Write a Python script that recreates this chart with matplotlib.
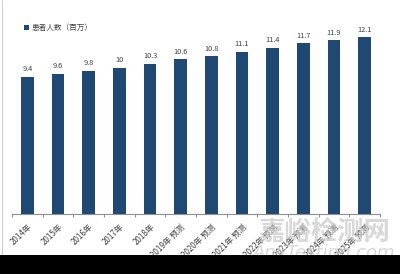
import matplotlib.pyplot as plt
from matplotlib.patches import Rectangle
import numpy as np

plt.rcParams['font.family'] = ['Noto Sans CJK SC', 'DejaVu Sans']

years = ['2014年', '2015年', '2016年', '2017年', '2018年', '2019年 预测',
         '2020年 预测', '2021年 预测', '2022年 预测', '2023年 预测',
         '2024年 预测', '2025年 预测']
patients = [9.4, 9.6, 9.8, 10, 10.3, 10.6, 10.8, 11.1, 11.4, 11.7, 11.9, 12.1]
value_labels = ['9.4', '9.6', '9.8', '10', '10.3', '10.6', '10.8', '11.1',
                '11.4', '11.7', '11.9', '12.1']

bar_color = '#1f4872'

fig = plt.figure(figsize=(4.0, 2.74), dpi=100)
ax = fig.add_axes([0.03, 0.219, 0.92, 0.719])

x = np.arange(len(years))
bars = ax.bar(x, patients, width=0.42, color=bar_color, label='患者人数（百万）')
for xi, v, s in zip(x, patients, value_labels):
    ax.text(xi, v + 0.25, s, ha='center', va='bottom', fontsize=5.3, color='#404040')

ax.set_xlim(-0.5, len(years) - 0.5)
ax.set_ylim(0, 13.5)
ax.set_yticks([])
for side in ['top', 'right', 'left']:
    ax.spines[side].set_visible(False)
ax.spines['bottom'].set_color('#909090')
ax.spines['bottom'].set_linewidth(0.8)

# ticks sit on the category boundaries, labels at the centres
ax.set_xticks(np.arange(len(years) + 1) - 0.5, minor=False)
ax.set_xticklabels([])
ax.tick_params(axis='x', which='major', length=2.5, color='#909090', width=0.8)
ax.set_xticks(x, minor=True)
ax.set_xticklabels(years, minor=True, rotation=45, ha='right', rotation_mode='anchor',
                   fontsize=5.8, color='#404040')
ax.tick_params(axis='x', which='minor', length=0, pad=6)

leg = ax.legend(loc='upper left', bbox_to_anchor=(0.015, 1.0), frameon=False,
                fontsize=5.5, handlelength=0.6, handleheight=0.6, handletextpad=0.3)
for t in leg.get_texts():
    t.set_color('#404040')

# watermark
fig.text(0.81, 0.152, '嘉峪检测网', fontsize=19, color='#c8c8c8', alpha=0.7,
         ha='center', va='center', fontweight='bold', zorder=1)
fig.text(0.81, 0.078, 'AnyTesting.com', fontsize=13, color='#c8c8c8', alpha=0.7,
         ha='center', va='center', style='italic', family='DejaVu Sans', zorder=1)

# thin frame line on the left and the black strip at the bottom
fig.patches.append(Rectangle((0.006, 0.07), 0.0, 0.93, transform=fig.transFigure,
                             edgecolor='#d0d0d0', linewidth=0.8, fill=False))
fig.patches.append(Rectangle((0, 0), 1, 0.069, transform=fig.transFigure,
                             facecolor='black', edgecolor='none', zorder=5))

fig.savefig('out.png', dpi=100)
